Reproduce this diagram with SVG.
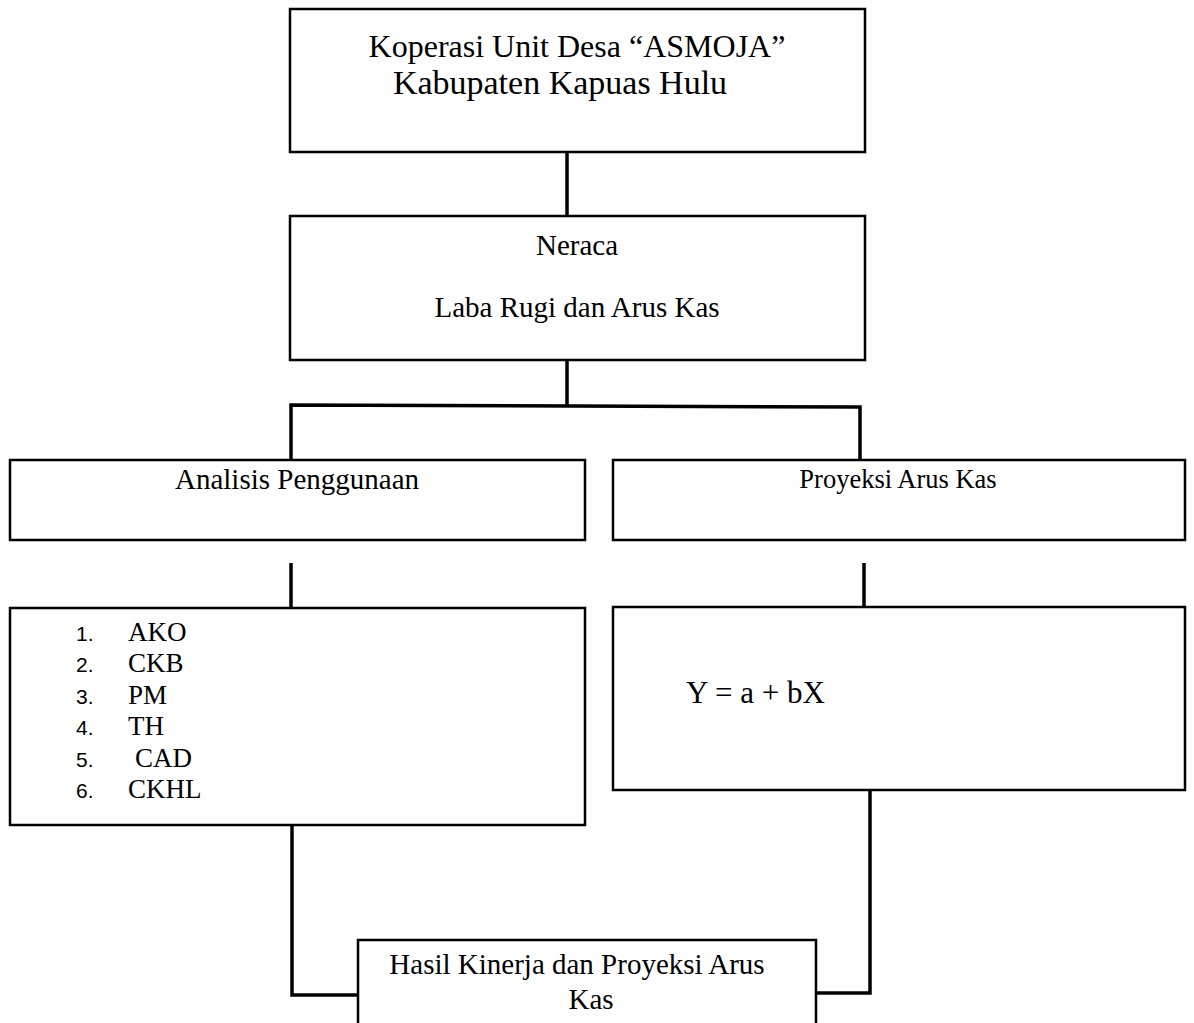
<svg xmlns="http://www.w3.org/2000/svg" width="1194" height="1023" viewBox="0 0 1194 1023">
<style>
.box{fill:#fff;stroke:#000;stroke-width:2.5}
.t{font-family:"Liberation Serif","Times New Roman",serif;font-size:29px;fill:#000}
.big{font-size:32px}
.li{font-size:27px}
.n{font-family:"Liberation Sans",Arial,sans-serif;font-size:21px;fill:#000}
.c{fill:none;stroke:#000;stroke-width:3.5}
</style>
<rect width="1194" height="1023" fill="#fff"/>
<g id="connectors">
<path class="c" d="M567 152 V216"/>
<path class="c" d="M567 360 V405"/>
<path class="c" d="M291 460 V405 L860 407 V460"/>
<path class="c" d="M291 563 V612"/>
<path class="c" d="M864 563 V612"/>
<path class="c" d="M292 825 V995 H358"/>
<path class="c" d="M870 790 V993 H816"/>
</g>
<g id="koperasi">
<rect class="box" x="290" y="9" width="575" height="143"/>
<text class="t big" x="577" y="57" text-anchor="middle">Koperasi Unit Desa “ASMOJA”</text>
<text class="t big" x="560" y="94" text-anchor="middle" style="font-size:34px">Kabupaten Kapuas Hulu</text>
</g>
<g id="neraca">
<rect class="box" x="290" y="216" width="575" height="144"/>
<text class="t" x="577" y="255" text-anchor="middle">Neraca</text>
<text class="t" x="577" y="317" text-anchor="middle">Laba Rugi dan Arus Kas</text>
</g>
<g id="analisis">
<rect class="box" x="10" y="460" width="575" height="80"/>
<text class="t" x="297" y="489" text-anchor="middle">Analisis Penggunaan</text>
</g>
<g id="proyeksi">
<rect class="box" x="613" y="460" width="572" height="80"/>
<text class="t" x="898" y="488" text-anchor="middle" style="font-size:26.5px">Proyeksi Arus Kas</text>
</g>
<g id="list">
<rect class="box" x="10" y="608" width="575" height="217"/>
<text class="n" x="76" y="641">1.</text><text class="t li" x="128" y="641">AKO</text>
<text class="n" x="76" y="672">2.</text><text class="t li" x="128" y="672">CKB</text>
<text class="n" x="76" y="704">3.</text><text class="t li" x="128" y="704">PM</text>
<text class="n" x="76" y="735">4.</text><text class="t li" x="128" y="735">TH</text>
<text class="n" x="76" y="767">5.</text><text class="t li" x="135" y="767">CAD</text>
<text class="n" x="76" y="798">6.</text><text class="t li" x="128" y="798">CKHL</text>
</g>
<g id="formula">
<rect class="box" x="613" y="607" width="572" height="183"/>
<text class="t" x="686" y="703" style="font-size:31px">Y = a + bX</text>
</g>
<g id="hasil">
<rect class="box" x="358" y="940" width="458" height="100"/>
<text class="t" x="577" y="974" text-anchor="middle">Hasil Kinerja dan Proyeksi Arus</text>
<text class="t" x="591" y="1009" text-anchor="middle">Kas</text>
</g>
</svg>
